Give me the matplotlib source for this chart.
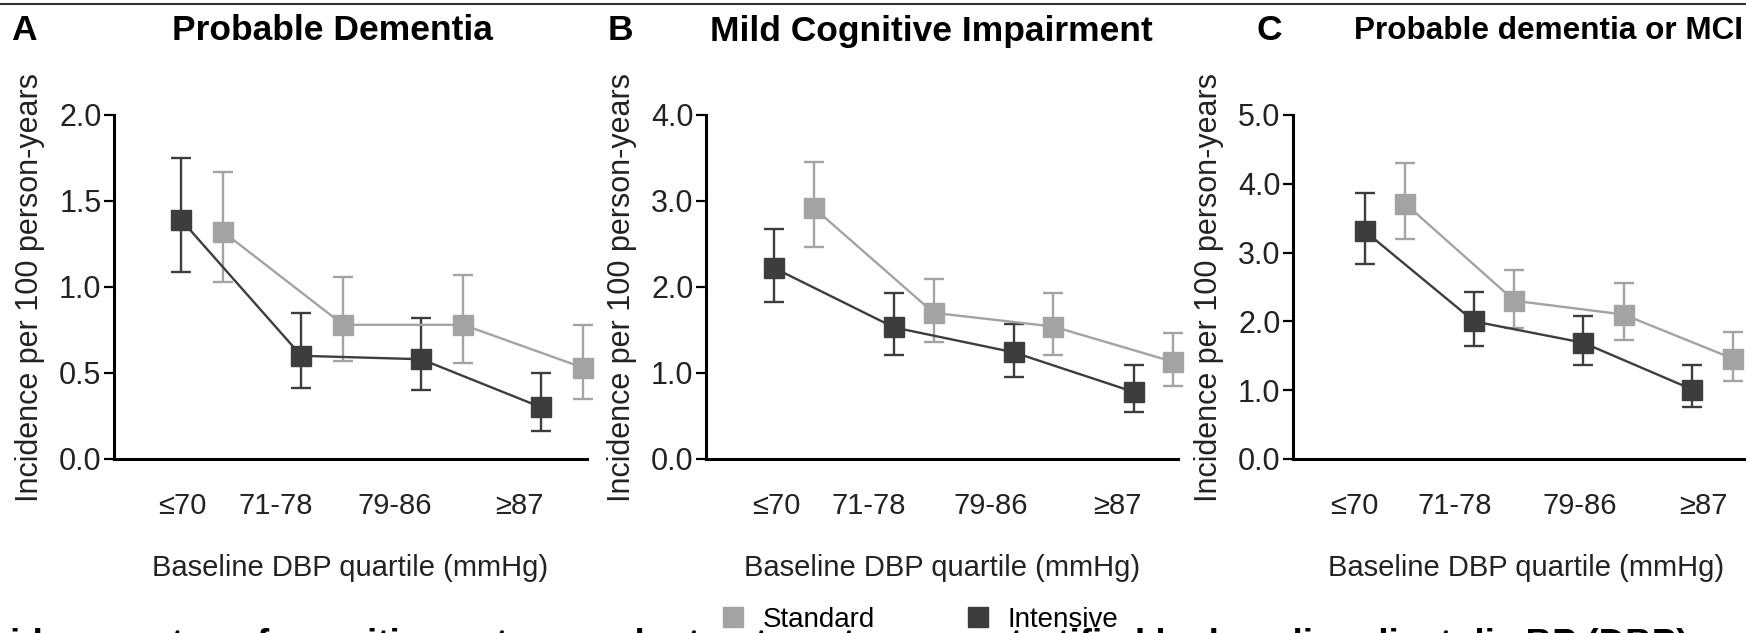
import numpy as np
import matplotlib.pyplot as plt
from matplotlib.lines import Line2D

plt.rcParams['font.family'] = ['Liberation Sans', 'DejaVu Sans']

quartiles = ['≤70', '71-78', '79-86', '≥87']
titles = ['Probable Dementia', 'Mild Cognitive Impairment', 'Probable dementia or MCI']
letters = ['A', 'B', 'C']
ymax = [2.0, 4.0, 5.0]

# incidence per 100 person-years, with 95% CI (lower, upper)
intensive = [[1.39, 0.60, 0.58, 0.30],
             [2.22, 1.53, 1.24, 0.78],
             [3.31, 2.00, 1.69, 1.01]]
intensive_lo = [[1.09, 0.41, 0.40, 0.16],
                [1.82, 1.21, 0.95, 0.55],
                [2.84, 1.64, 1.37, 0.75]]
intensive_hi = [[1.75, 0.85, 0.82, 0.50],
                [2.68, 1.93, 1.57, 1.09],
                [3.87, 2.43, 2.08, 1.36]]
standard = [[1.32, 0.78, 0.78, 0.53],
            [2.92, 1.70, 1.54, 1.13],
            [3.71, 2.30, 2.10, 1.46]]
standard_lo = [[1.03, 0.57, 0.56, 0.35],
               [2.47, 1.36, 1.21, 0.85],
               [3.20, 1.90, 1.73, 1.14]]
standard_hi = [[1.67, 1.06, 1.07, 0.78],
               [3.45, 2.09, 1.93, 1.47],
               [4.30, 2.74, 2.56, 1.84]]

c_int = '#3d3d3d'
c_std = '#a3a3a3'

W, H = 1746, 633
fig = plt.figure(figsize=(W / 100, H / 100), dpi=100)

# axes boxes in pixels: left, right ; xlims in group units
boxes = [(114, 587), (706, 1178), (1293, 1760)]
xlims = [(-0.56, 3.38), (-0.57, 3.37), (-0.66, 3.62)]
tickpos = [[0.01, 0.79, 1.78, 2.82], [0.02, 0.79, 1.81, 2.86], [-0.1, 0.82, 1.97, 3.1]]
offs = [0.35, 0.33, 0.37]
top, bot = 115, 459

x = np.arange(4)
for k in range(3):
    l, r = boxes[k]
    ax = fig.add_axes([l / W, 1 - bot / H, (r - l) / W, (bot - top) / H])
    for vals, lo, hi, col, dx in [(standard[k], standard_lo[k], standard_hi[k], c_std, offs[k]),
                                 (intensive[k], intensive_lo[k], intensive_hi[k], c_int, 0.0)]:
        vals = np.array(vals)
        err = [vals - np.array(lo), np.array(hi) - vals]
        ax.errorbar(x + dx, vals, yerr=err, color=col, ecolor=col, elinewidth=1.7,
                    capsize=7, capthick=1.7, lw=1.7, marker='s', ms=14, clip_on=False)
    ax.set_xlim(*xlims[k])
    ax.set_ylim(0, ymax[k])
    ax.set_yticks(np.arange(0, ymax[k] + 0.01, ymax[k] / 4 if k == 0 else 1.0))
    ax.yaxis.set_major_formatter(plt.FormatStrFormatter('%.1f'))
    ax.set_xticks(tickpos[k])
    ax.set_xticklabels(quartiles)
    ax.tick_params(axis='x', length=0, pad=24, labelsize=21, labelcolor='#222222')
    ax.tick_params(axis='y', length=7, width=1.6, pad=2, labelsize=22, labelcolor='#222222')
    for s in ['top', 'right']:
        ax.spines[s].set_visible(False)
    for s in ['left', 'bottom']:
        ax.spines[s].set_linewidth(2.2)
    ax.set_ylabel('Incidence per 100 person-years', fontsize=22, color='#222222', labelpad=10)
    ax.set_xlabel('Baseline DBP quartile (mmHg)', fontsize=21, color='#222222', labelpad=24)

# titles and panel letters
title_x = [332, 931, 1549]
title_fs = [25.5, 25.5, 22.7]
letter_x = [11, 608, 1256]
for k in range(3):
    fig.text(title_x[k] / W, 1 - 31 / H, titles[k], ha='center', va='center',
             fontsize=title_fs[k], fontweight='bold')
    fig.text(letter_x[k] / W, 1 - 31 / H, letters[k], ha='left', va='center',
             fontsize=25.5, fontweight='bold')

# thin rule at the top
fig.add_artist(Line2D([0, 1], [1 - 4 / H, 1 - 4 / H], color='#333333', lw=1.5))

# caption line cut off by the bottom edge
fig.text(-43 / W, -22 / H,
         'Incidence rates of cognitive outcomes by treatment group, stratified by baseline diastolic BP (DBP)',
         ha='left', va='baseline', fontsize=26.5, fontweight='bold')

handles = [Line2D([], [], ls='none', marker='s', ms=15, color=c_std),
           Line2D([], [], ls='none', marker='s', ms=15, color=c_int)]
fig.legend(handles, ['Standard', 'Intensive'], loc='center left', bbox_to_anchor=(719 / W, 1 - 620 / H),
           ncol=2, frameon=False, fontsize=20, borderpad=0, borderaxespad=0,
           handletextpad=0.57, columnspacing=3.2, handlelength=1.0)

fig.savefig('out.png', dpi=100)
